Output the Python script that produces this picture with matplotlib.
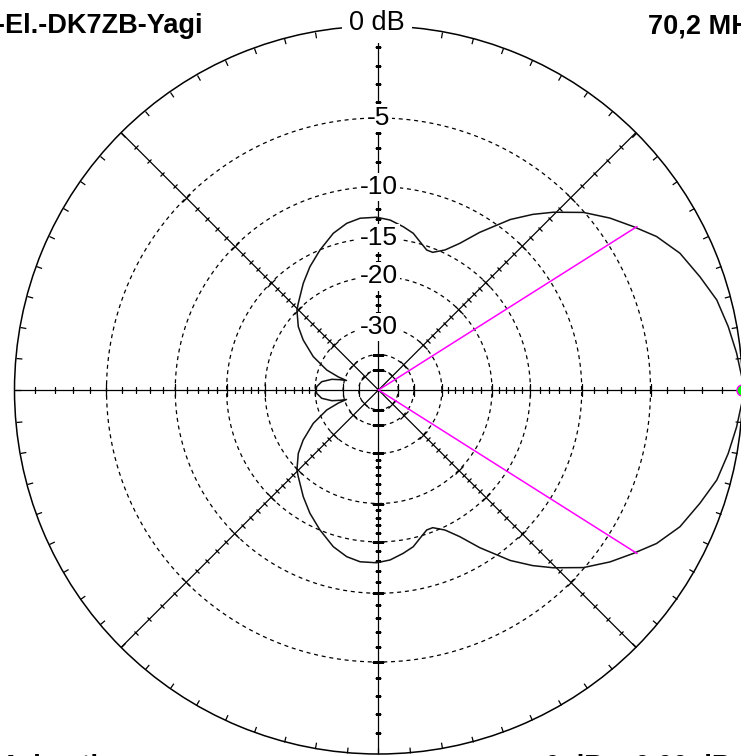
import numpy as np
import matplotlib
matplotlib.use("Agg")
import matplotlib.pyplot as plt
from matplotlib.markers import MarkerStyle
from matplotlib.transforms import Affine2D
from matplotlib.path import Path

plt.rcParams['font.family'] = ['Liberation Sans', 'DejaVu Sans']

# ---------------- data ----------------
title_left = "-El.-DK7ZB-Yagi"
title_right = "70,2 MHz"
footer_left = "Azimuth"
footer_right = "0 dB = 0,00 dBd"

# upper half of the azimuth pattern (degrees, dB); lower half is its mirror
pattern_deg = [0, 2, 5.9, 10.3, 14.9, 19.4, 24.4, 28.9, 32.7, 36.6, 40.9, 45.5,
               48.7, 52.3, 57.3, 61.0, 64.6, 68.5, 71.0, 74.4, 77.5, 81.4,
               86.1, 90.6, 96.1, 100.8, 106.1, 112.7, 119.1, 125.2, 132.8, 135.6,
               141.7, 146.4, 152.9, 158.9, 162.0, 163.5, 165.0, 167.1, 171.7,
               176.9, 180]
pattern_db = [0, -0.02, -0.19, -0.41, -0.67, -1.13, -1.63, -2.34, -3.17, -4.0,
              -5.05, -6.5, -7.6, -9.0, -11.4, -13.3, -14.65, -15.45,
              -15.44, -14.76, -14.05, -13.56, -13.03, -12.79, -12.79, -13.1,
              -13.78, -15.02, -16.27, -17.6, -19.32, -19.9, -21.8, -23.9, -27.5,
              -32.3, -37.0, -41.0, -38.0, -34.8, -31.7, -30.4, -30.3]

ring_db = [-5, -10, -15, -20, -30, -40, -50]
ring_label_db = [-5, -10, -15, -20, -30]
ring_labels = ["-5", "-10", "-15", "-20", "-30"]
spoke_deg = [0, 45, 90, 135, 180, 225, 270, 315]
minor_tick_db = [-1, -2, -3, -4, -6, -7, -8, -9, -11, -12, -13, -14,
                 -16, -17, -18, -19, -21.7, -23.3, -25, -26.7, -28.3]
outer_tick_deg = list(range(0, 360, 5))
beam_deg = [32.3, -32.3]
beam_db = [-3.0, -3.0]
max_deg = [0]
max_db = [0]

# ARRL-style log scale: each 2 dB -> factor 0.89 in radius
K = np.log(0.89) / 2.0
def fwd(db):
    db = np.asarray(db, dtype=float)
    return np.exp(K * -db)
def inv(r):
    r = np.asarray(r, dtype=float)
    with np.errstate(divide='ignore', invalid='ignore'):
        return -np.log(np.where(r > 0, r, np.nan)) / K

W, H = 741, 756
fig = plt.figure(figsize=(W / 100, H / 100), dpi=100)
cx, cy, R = 378.5, 390.0, 364.0
ax = fig.add_axes([(cx - R) / W, (H - cy - R) / H, 2 * R / W, 2 * R / H],
                  projection='polar')
ax.set_rscale('function', functions=(fwd, inv))
ax.set_rlim(-300, 0)
ax.set_xticks([])
ax.set_yticks([])
ax.grid(False)
ax.spines['polar'].set_linewidth(1.1)
ax.spines['polar'].set_color('black')

full = np.linspace(0, 2 * np.pi, 1441)
# dashed rings
for d in ring_db:
    ax.plot(full, np.full_like(full, d), color='black', lw=0.9,
            linestyle=(0, (3.2, 3.0)), zorder=2)

# spokes
for a in spoke_deg:
    t = np.deg2rad(a)
    ax.plot([t, t], [-300, 0], color='black', lw=0.9, zorder=2)

# ticks along spokes
for a in spoke_deg:
    t = np.deg2rad(a)
    mk = MarkerStyle('|', transform=Affine2D().rotate_deg(a))
    ax.plot(np.full(len(minor_tick_db), t), minor_tick_db, linestyle='none',
            marker=mk, ms=4.6, mew=0.9, color='black', zorder=2)
    ax.plot(np.full(len(ring_db), t), ring_db, linestyle='none',
            marker=mk, ms=8.5, mew=0.9, color='black', zorder=2)

# inward ticks on the outer circle
tick_path = Path([(0, 0), (-1, 0)])
for a in outer_tick_deg:
    mk = MarkerStyle(tick_path, transform=Affine2D().rotate_deg(a))
    ax.plot([np.deg2rad(a)], [0], linestyle='none', marker=mk, ms=8.5,
            mew=0.9, color='black', zorder=2, clip_on=False)

# pattern
pd = np.array(pattern_deg)
pv = np.array(pattern_db)
theta = np.deg2rad(np.concatenate([pd, 360 - pd[::-1]]))
vals = np.concatenate([pv, pv[::-1]])
ax.plot(theta, vals, color='#111111', lw=1.1, zorder=4)

# beamwidth lines
for a, d in zip(beam_deg, beam_db):
    t = np.deg2rad(a)
    ax.plot([t, t], [-300, d], color='#ff00ff', lw=1.1, zorder=4)

# maximum marker
ax.plot(np.deg2rad(max_deg), max_db, linestyle='none', marker='o', ms=8,
        mfc='#00ff00', mec='#ff00ff', mew=1.0, zorder=6, clip_on=False)

# ring labels
for d, lab in zip(ring_label_db, ring_labels):
    ax.text(np.pi / 2, d, lab, ha='center', va='center', fontsize=19,
            color='black', zorder=5,
            bbox=dict(boxstyle='square,pad=0.08', fc='white', ec='none'))

def px(x, y):
    return x / W, 1 - y / H

fig.text(*px(377, 23), "0 dB", ha='center', va='center', fontsize=19.5,
         zorder=10, bbox=dict(boxstyle='square,pad=0.25', fc='white', ec='none'))
fig.text(*px(-4, 33), title_left, ha='left', va='baseline', fontsize=19.5,
         fontweight='bold')
fig.text(*px(648, 33), title_right, ha='left', va='baseline', fontsize=19.5,
         fontweight='bold')
fig.text(*px(0, 774), footer_left, ha='left', va='baseline', fontsize=19.5,
         fontweight='bold')
fig.text(*px(545, 774), footer_right, ha='left', va='baseline', fontsize=19.5,
         fontweight='bold')

fig.savefig("out.png", dpi=100, facecolor='white')
